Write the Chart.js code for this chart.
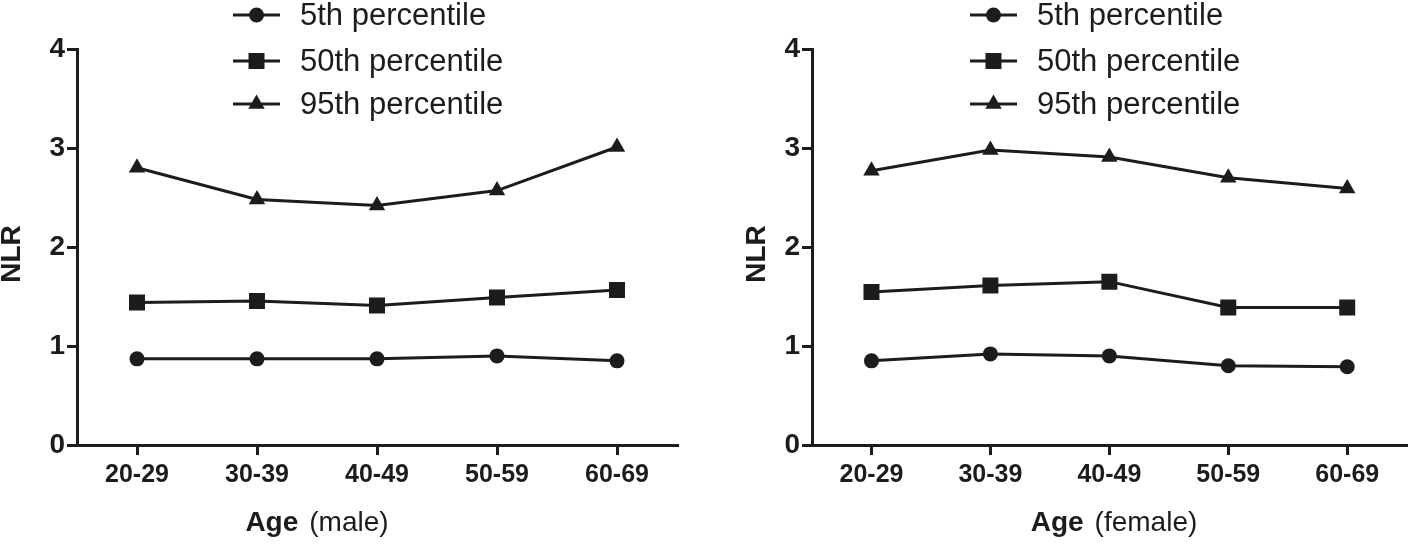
<!DOCTYPE html>
<html>
<head>
<meta charset="utf-8">
<script src="https://cdn.jsdelivr.net/npm/chart.js@4/dist/chart.umd.min.js"></script>
<style>
  html, body { margin: 0; padding: 0; background: #ffffff; }
  #wrap { position: relative; width: 1418px; height: 544px; overflow: hidden; }
  canvas { position: absolute; top: 0; }
  #c1 { left: 0; }
  #c2 { left: 709px; }
</style>
</head>
<body>
<div id="wrap">
  <canvas id="c1" width="709" height="544"></canvas>
  <canvas id="c2" width="709" height="544"></canvas>
</div>
<script>
// ---- data ----
const categories = ['20-29', '30-39', '40-49', '50-59', '60-69'];
const seriesNames = ['5th percentile', '50th percentile', '95th percentile'];
const yTicks = [0, 1, 2, 3, 4];

const male5  = [0.87, 0.87, 0.87, 0.90, 0.85];
const male50 = [1.44, 1.455, 1.41, 1.49, 1.565];
const male95 = [2.80, 2.48, 2.42, 2.57, 3.01];

const female5  = [0.85, 0.92, 0.90, 0.80, 0.79];
const female50 = [1.545, 1.61, 1.65, 1.39, 1.39];
const female95 = [2.77, 2.98, 2.91, 2.70, 2.59];

const yTitle = 'NLR';
const xTitleBold = 'Age';
const xTitleMale = '(male)';
const xTitleFemale = '(female)';

// ---- styling ----
const INK = '#1c1c1c';
const FONT = '"Liberation Sans", Arial, Helvetica, sans-serif';
const styles = [
  { pointStyle: 'circle', radius: 7.5 },
  { pointStyle: 'rect', radius: 11.3 },
  { pointStyle: 'triangle', radius: 9.5 }
];

function drawMarker(ctx, style, r, x, y) {
  ctx.beginPath();
  if (style === 'circle') {
    ctx.arc(x, y, r, 0, Math.PI * 2);
  } else if (style === 'rect') {
    const s = Math.SQRT1_2 * r;
    ctx.rect(x - s, y - s, 2 * s, 2 * s);
  } else {
    for (let k = 0; k < 3; k++) {
      const a = k * 2 * Math.PI / 3;
      const px = x + Math.sin(a) * r, py = y - Math.cos(a) * r;
      if (k === 0) ctx.moveTo(px, py); else ctx.lineTo(px, py);
    }
    ctx.closePath();
  }
  ctx.fill();
}

const decorPlugin = {
  id: 'decor',
  afterDraw(chart, args, opts) {
    const ctx = chart.ctx;
    ctx.save();
    ctx.fillStyle = INK;
    ctx.strokeStyle = INK;
    // legend
    const rows = [15, 61, 104];
    chart.data.datasets.forEach((ds, i) => {
      const y = rows[i];
      ctx.lineWidth = 3;
      ctx.beginPath();
      ctx.moveTo(opts.legendX, y);
      ctx.lineTo(opts.legendX + 47, y);
      ctx.stroke();
      drawMarker(ctx, ds.pointStyle, ds.pointRadius, opts.legendX + 23.5, y);
      ctx.font = '31px ' + FONT;
      ctx.textAlign = 'left';
      ctx.textBaseline = 'middle';
      ctx.fillText(ds.label, opts.legendX + 67, y + 1);
    });
    // y title
    ctx.save();
    ctx.translate(opts.yTitleX, 254);
    ctx.rotate(-Math.PI / 2);
    ctx.font = 'bold 28px ' + FONT;
    ctx.textAlign = 'center';
    ctx.textBaseline = 'middle';
    ctx.fillText(yTitle, 0, 0);
    ctx.restore();
    // x title (mixed weight)
    ctx.textBaseline = 'middle';
    ctx.textAlign = 'left';
    ctx.font = 'bold 28px ' + FONT;
    const w1 = ctx.measureText(xTitleBold).width;
    ctx.font = '28px ' + FONT;
    const gap = 11;
    const w2 = ctx.measureText(opts.xTitleRest).width;
    const total = w1 + gap + w2;
    let x0 = opts.xTitleCX - total / 2;
    ctx.font = 'bold 28px ' + FONT;
    ctx.fillText(xTitleBold, x0, 523);
    ctx.font = '28px ' + FONT;
    ctx.fillText(opts.xTitleRest, x0 + w1 + gap, 523);
    ctx.restore();
  }
};

function makeChart(canvasId, d5, d50, d95, cfg) {
  const sets = [d5, d50, d95].map((vals, i) => ({
    label: seriesNames[i],
    data: vals,
    borderColor: INK,
    backgroundColor: INK,
    borderWidth: 3,
    pointStyle: styles[i].pointStyle,
    pointRadius: styles[i].radius,
    pointHoverRadius: styles[i].radius,
    pointBackgroundColor: INK,
    pointBorderColor: INK,
    pointBorderWidth: 0,
    tension: 0,
    fill: false
  }));
  return new Chart(document.getElementById(canvasId), {
    type: 'line',
    data: { labels: categories, datasets: sets },
    options: {
      responsive: false,
      animation: false,
      devicePixelRatio: 1,
      layout: { padding: { top: 49, right: cfg.padRight, left: 0, bottom: 0 } },
      plugins: {
        legend: { display: false },
        tooltip: { enabled: false },
        decor: { legendX: cfg.legendX, yTitleX: cfg.yTitleX, xTitleCX: cfg.xTitleCX, xTitleRest: cfg.xTitleRest }
      },
      scales: {
        x: {
          type: 'category',
          offset: true,
          border: { display: true, color: INK, width: 3 },
          grid: { display: true, drawOnChartArea: false, drawTicks: true, tickLength: 10, color: INK, lineWidth: 3 },
          ticks: { color: INK, font: { family: FONT, size: 25, weight: 'bold' }, padding: 5, maxRotation: 0, autoSkip: false },
          afterFit(scale) { scale.height = 99; }
        },
        y: {
          type: 'linear',
          min: 0,
          max: 4,
          afterBuildTicks(scale) { scale.ticks = yTicks.map(v => ({ value: v })); },
          border: { display: true, color: INK, width: 3 },
          grid: { display: true, drawOnChartArea: false, drawTicks: true, tickLength: 10, color: INK, lineWidth: 3 },
          ticks: { color: INK, font: { family: FONT, size: 28, weight: 'bold' }, padding: 2 },
          afterFit(scale) { scale.width = cfg.yWidth; }
        }
      }
    },
    plugins: [decorPlugin]
  });
}

makeChart('c1', male5, male50, male95, {
  padRight: 32, yWidth: 77, legendX: 233, yTitleX: 12, xTitleCX: 317, xTitleRest: xTitleMale
});
makeChart('c2', female5, female50, female95, {
  padRight: 6, yWidth: 103, legendX: 261, yTitleX: 48, xTitleCX: 405, xTitleRest: xTitleFemale
});
</script>
</body>
</html>
